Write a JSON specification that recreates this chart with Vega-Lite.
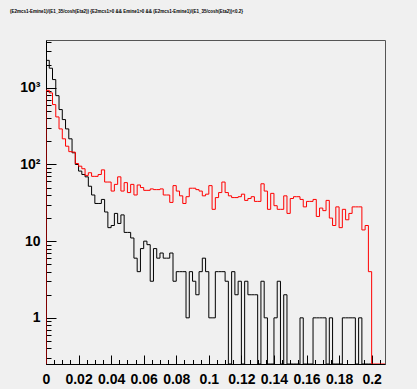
{
  "$schema": "https://vega.github.io/schema/vega-lite/v6.json",
  "width": 339,
  "height": 324,
  "autosize": "none",
  "padding": {"left": 46, "top": 40, "right": 32, "bottom": 25},
  "background": "#f0f0f0",
  "title": {
    "text": "(E2mcs1-Emine1)/(E1_35/cosh(Eta2)) {E2mcs1>0 && Emine1>0  && (E2mcs1-Emine1)/(E1_35/cosh(Eta2))<0.2}",
    "anchor": "start",
    "frame": "group",
    "font": "Liberation Sans",
    "fontSize": 4.5,
    "fontWeight": "bold",
    "color": "#000000",
    "offset": 27,
    "dx": -36,
    "dy": 6
  },
  "config": {"view": {"stroke": "#555555", "strokeWidth": 1, "fill": "#f0f0f0"}},
  "datasets": {
    "h1": [
      {"x":0,"v":0},{"x":0,"v":2280},{"x":0.002,"v":1800},{"x":0.004,"v":1280},{"x":0.006,"v":790},{"x":0.008,"v":520},
      {"x":0.01,"v":385},{"x":0.012,"v":291},{"x":0.014,"v":216},{"x":0.016,"v":142},{"x":0.018,"v":100},
      {"x":0.02,"v":82},{"x":0.022,"v":74},{"x":0.024,"v":69},{"x":0.026,"v":52},{"x":0.028,"v":40},
      {"x":0.03,"v":31},{"x":0.032,"v":31},{"x":0.034,"v":35},{"x":0.036,"v":24},{"x":0.038,"v":15},
      {"x":0.04,"v":16},{"x":0.042,"v":23},{"x":0.044,"v":17},{"x":0.046,"v":22},{"x":0.048,"v":13},
      {"x":0.05,"v":13},{"x":0.052,"v":11},{"x":0.054,"v":6},{"x":0.056,"v":4},{"x":0.058,"v":8},
      {"x":0.06,"v":10},{"x":0.062,"v":9},{"x":0.064,"v":3},{"x":0.066,"v":8},{"x":0.068,"v":6},
      {"x":0.07,"v":7},{"x":0.072,"v":6},{"x":0.074,"v":6},{"x":0.076,"v":7},{"x":0.078,"v":3},
      {"x":0.08,"v":4},{"x":0.082,"v":4},{"x":0.084,"v":4},{"x":0.086,"v":1},{"x":0.088,"v":4},
      {"x":0.09,"v":3},{"x":0.092,"v":2},{"x":0.094,"v":4},{"x":0.096,"v":6},{"x":0.098,"v":4},
      {"x":0.1,"v":1},{"x":0.102,"v":1},{"x":0.104,"v":4},{"x":0.106,"v":4},{"x":0.108,"v":4},
      {"x":0.11,"v":3},{"x":0.112,"v":0},{"x":0.114,"v":4},{"x":0.116,"v":2},{"x":0.118,"v":3},
      {"x":0.12,"v":0},{"x":0.122,"v":3},{"x":0.124,"v":2},{"x":0.126,"v":2},{"x":0.128,"v":2},
      {"x":0.13,"v":0},{"x":0.132,"v":3},{"x":0.134,"v":1},{"x":0.136,"v":0},{"x":0.138,"v":0},
      {"x":0.14,"v":1},{"x":0.142,"v":3},{"x":0.144,"v":0},{"x":0.146,"v":2},{"x":0.148,"v":0},
      {"x":0.15,"v":0},{"x":0.152,"v":0},{"x":0.154,"v":0},{"x":0.156,"v":1},{"x":0.158,"v":0},
      {"x":0.16,"v":0},{"x":0.162,"v":0},{"x":0.164,"v":1},{"x":0.166,"v":1},{"x":0.168,"v":1},
      {"x":0.17,"v":1},{"x":0.172,"v":0},{"x":0.174,"v":1},{"x":0.176,"v":0},{"x":0.178,"v":0},
      {"x":0.18,"v":0},{"x":0.182,"v":1},{"x":0.184,"v":1},{"x":0.186,"v":1},{"x":0.188,"v":1},
      {"x":0.19,"v":0},{"x":0.192,"v":1},{"x":0.194,"v":0},{"x":0.196,"v":0},{"x":0.198,"v":0},
      {"x":0.2,"v":0}
    ],
    "h2": [
      {"x":0,"v":0},{"x":0,"v":927},{"x":0.002,"v":858},{"x":0.004,"v":604},{"x":0.006,"v":417},{"x":0.008,"v":291},
      {"x":0.01,"v":216},{"x":0.012,"v":173},{"x":0.014,"v":147},{"x":0.016,"v":145},{"x":0.018,"v":103},
      {"x":0.02,"v":95},{"x":0.022,"v":88},{"x":0.024,"v":72},{"x":0.026,"v":78},{"x":0.028,"v":70},
      {"x":0.03,"v":70},{"x":0.032,"v":74},{"x":0.034,"v":85},{"x":0.036,"v":59},{"x":0.038,"v":59},
      {"x":0.04,"v":45},{"x":0.042,"v":55},{"x":0.044,"v":69},{"x":0.046,"v":45},{"x":0.048,"v":58},
      {"x":0.05,"v":43},{"x":0.052,"v":55},{"x":0.054,"v":40},{"x":0.056,"v":54},{"x":0.058,"v":50},
      {"x":0.06,"v":46},{"x":0.062,"v":46},{"x":0.064,"v":48},{"x":0.066,"v":47},{"x":0.068,"v":47},
      {"x":0.07,"v":48},{"x":0.072,"v":40},{"x":0.074,"v":40},{"x":0.076,"v":32},{"x":0.078,"v":53},
      {"x":0.08,"v":45},{"x":0.082,"v":39},{"x":0.084,"v":31},{"x":0.086,"v":38},{"x":0.088,"v":49},
      {"x":0.09,"v":49},{"x":0.092,"v":47},{"x":0.094,"v":45},{"x":0.096,"v":39},{"x":0.098,"v":41},
      {"x":0.1,"v":53},{"x":0.102,"v":26},{"x":0.104,"v":37},{"x":0.106,"v":43},{"x":0.108,"v":59},
      {"x":0.11,"v":43},{"x":0.112,"v":39},{"x":0.114,"v":37},{"x":0.116,"v":37},{"x":0.118,"v":38},
      {"x":0.12,"v":41},{"x":0.122,"v":34},{"x":0.124,"v":36},{"x":0.126,"v":38},{"x":0.128,"v":33},
      {"x":0.13,"v":33},{"x":0.132,"v":56},{"x":0.134,"v":45},{"x":0.136,"v":26},{"x":0.138,"v":42},
      {"x":0.14,"v":29},{"x":0.142,"v":26},{"x":0.144,"v":26},{"x":0.146,"v":39},{"x":0.148,"v":23},
      {"x":0.15,"v":36},{"x":0.152,"v":38},{"x":0.154,"v":38},{"x":0.156,"v":35},{"x":0.158,"v":28},
      {"x":0.16,"v":33},{"x":0.162,"v":33},{"x":0.164,"v":35},{"x":0.166,"v":21},{"x":0.168,"v":27},
      {"x":0.17,"v":25},{"x":0.172,"v":34},{"x":0.174,"v":20},{"x":0.176,"v":16},{"x":0.178,"v":28},
      {"x":0.18,"v":15},{"x":0.182,"v":26},{"x":0.184,"v":19},{"x":0.186,"v":23},{"x":0.188,"v":28},
      {"x":0.19,"v":28},{"x":0.192,"v":28},{"x":0.194,"v":14},{"x":0.196,"v":16},{"x":0.198,"v":4},
      {"x":0.2,"v":0},{"x":0.2082,"v":0}
    ]
  },
  "encoding": {
    "x": {
      "field": "x", "type": "quantitative",
      "scale": {"domain": [0, 0.2082], "nice": false, "zero": false},
      "axis": {
        "title": null, "grid": false,
        "values": [0,0.005,0.01,0.015,0.02,0.025,0.03,0.035,0.04,0.045,0.05,0.055,0.06,0.065,0.07,0.075,0.08,0.085,0.09,0.095,0.1,0.105,0.11,0.115,0.12,0.125,0.13,0.135,0.14,0.145,0.15,0.155,0.16,0.165,0.17,0.175,0.18,0.185,0.19,0.195,0.2,0.205],
        "tickSize": {"condition": {"test": "abs(datum.value*50 - round(datum.value*50)) < 0.001", "value": -9}, "value": -4.5},
        "labelExpr": "abs(datum.value*50 - round(datum.value*50)) < 0.001 ? format(datum.value, '~g') : ''",
        "labelFont": "Liberation Sans", "labelFontWeight": "bold", "labelFontSize": 14, "labelColor": "#000000",
        "labelPadding": 17, "labelOverlap": false, "labelFlush": false, "labelBound": false,
        "domainColor": "#000000", "tickColor": "#000000", "domainWidth": 1, "tickWidth": 1
      }
    },
    "y": {
      "field": "v", "type": "quantitative",
      "scale": {"type": "log", "domain": [0.25, 4200], "nice": false, "clamp": true},
      "axis": {
        "title": null, "grid": false,
        "values": [0.3,0.4,0.5,0.6,0.7,0.8,0.9,1,2,3,4,5,6,7,8,9,10,20,30,40,50,60,70,80,90,100,200,300,400,500,600,700,800,900,1000,2000,3000,4000],
        "tickSize": {"condition": {"test": "abs(log(datum.value)/LN10 - round(log(datum.value)/LN10)) < 0.001", "value": -10}, "value": -5},
        "labelExpr": "datum.value == 1 ? '1' : datum.value == 10 ? '10' : datum.value == 100 ? '10²' : datum.value == 1000 ? '10³' : ''",
        "labelFont": "Liberation Sans", "labelFontWeight": "bold", "labelFontSize": 14, "labelColor": "#000000",
        "labelPadding": 16, "labelOverlap": false, "labelBound": false, "labelFlush": false,
        "domainColor": "#000000", "tickColor": "#000000", "domainWidth": 1, "tickWidth": 1
      }
    }
  },
  "layer": [
    {"data": {"name": "h1"}, "mark": {"type": "line", "interpolate": "step-after", "color": "#000000", "strokeWidth": 1, "clip": true, "invalid": "show"}},
    {"data": {"name": "h2"}, "mark": {"type": "line", "interpolate": "step-after", "color": "#ff0000", "strokeWidth": 1, "clip": true, "invalid": "show"}}
  ]
}
